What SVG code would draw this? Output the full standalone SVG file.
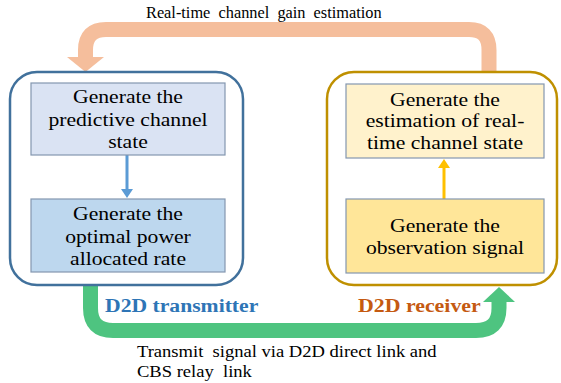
<svg xmlns="http://www.w3.org/2000/svg" width="561" height="383" viewBox="0 0 561 383">
<defs>
<style>
text{font-family:'Liberation Serif','DejaVu Serif',serif;fill:#000;}
.bx{font-size:19px;text-anchor:middle;}
.lbl{font-size:19px;font-weight:bold;}
.cap{font-size:16px;white-space:pre;}
.inner{stroke:#8497B0;stroke-width:1.2;}
</style>
</defs>
<rect width="561" height="383" fill="#fff"/>
<g id="connectors">
<path d="M489 74 V50 Q489 29.5 469 29.5 H106 Q85.5 29.5 85.5 50 V57" fill="none" stroke="#F5BE9C" stroke-width="15"/>
<polygon points="67,57 104,57 85.5,72" fill="#F5BE9C"/>
<path d="M90.5 285 V308 Q90.5 330.5 113 330.5 H476 Q499 330.5 499 308 V301" fill="none" stroke="#4EC480" stroke-width="15"/>
<polygon points="483,302 515,302 499,287" fill="#4EC480"/>
</g>
<g id="transmitter">
<rect x="10" y="72" width="233" height="213" rx="27" fill="#fff" stroke="#41719C" stroke-width="2.5"/>
<text class="lbl" font-family="Liberation Serif, serif" style="fill:#2E75B6" transform="translate(105 311.5) scale(1.14 1)">D2D transmitter</text>
</g>
<g id="receiver">
<rect x="327" y="72" width="230" height="213" rx="27" fill="#fff" stroke="#BF9000" stroke-width="2.5"/>
<text class="lbl" font-family="Liberation Serif, serif" style="fill:#C55A11" transform="translate(358 312) scale(1.15 1)">D2D receiver</text>
</g>
<g id="connectors-inner">
<line x1="127" y1="155" x2="127" y2="190" stroke="#5B9BD5" stroke-width="3"/>
<polygon points="121,189 133,189 127,198" fill="#5B9BD5"/>
<line x1="444" y1="199" x2="444" y2="167" stroke="#FFC000" stroke-width="3"/>
<polygon points="438,168 450,168 444,159" fill="#FFC000"/>
</g>
<g id="predict" font-family="Liberation Serif, serif">
<rect class="inner" x="31" y="83" width="194" height="72" fill="#DAE3F3"/>
<text class="bx" transform="translate(128 103) scale(1.14 1)">Generate the</text>
<text class="bx" transform="translate(128 125.5) scale(1.14 1)">predictive channel</text>
<text class="bx" transform="translate(128 147.5) scale(1.14 1)">state</text>
</g>
<g id="power" font-family="Liberation Serif, serif">
<rect class="inner" x="31" y="199" width="194" height="73" fill="#BDD7EE"/>
<text class="bx" transform="translate(128 220) scale(1.14 1)">Generate the</text>
<text class="bx" transform="translate(128 242.5) scale(1.14 1)">optimal power</text>
<text class="bx" transform="translate(128 265) scale(1.14 1)">allocated rate</text>
</g>
<g id="estimation" font-family="Liberation Serif, serif">
<rect class="inner" x="346" y="84" width="198" height="74" fill="#FFF2CC"/>
<text class="bx" transform="translate(445 105.5) scale(1.14 1)">Generate the</text>
<text class="bx" transform="translate(445 127) scale(1.14 1)">estimation of real-</text>
<text class="bx" transform="translate(445 149) scale(1.14 1)">time channel state</text>
</g>
<g id="observation" font-family="Liberation Serif, serif">
<rect class="inner" x="346" y="199" width="198" height="74" fill="#FFE699"/>
<text class="bx" transform="translate(445 231.5) scale(1.14 1)">Generate the</text>
<text class="bx" transform="translate(445 254) scale(1.14 1)">observation signal</text>
</g>
<g id="captions" font-family="Liberation Serif, serif">
<text class="cap" xml:space="preserve" transform="translate(146 17.5) scale(1.02 1)">Real-time  channel  gain  estimation</text>
<text class="cap" xml:space="preserve" transform="translate(137 357) scale(1.16 1)">Transmit  signal via D2D direct link and</text>
<text class="cap" xml:space="preserve" transform="translate(137 376.5) scale(1.16 1)">CBS relay  link</text>
</g>
</svg>
